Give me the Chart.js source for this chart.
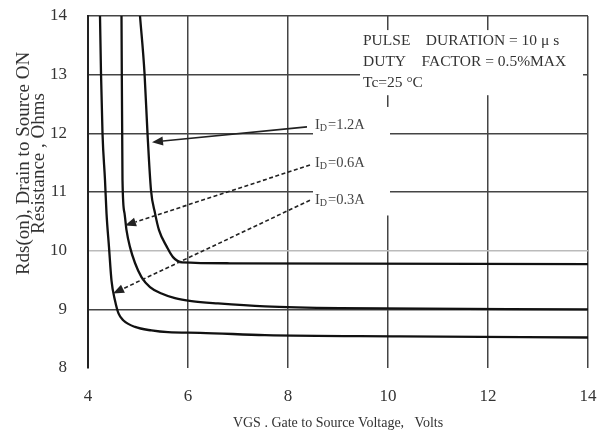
<!DOCTYPE html>
<html>
<head>
<meta charset="utf-8">
<script src="https://cdn.jsdelivr.net/npm/chart.js@4"></script>
<style>
  html, body { margin: 0; padding: 0; background: #fff; }
  #wrap { width: 603px; height: 441px; }
</style>
</head>
<body>
<div id="wrap"><canvas id="rdsCanvas" width="603" height="441"></canvas></div>
<script>
// Rds(on) vs Vgs, three drain currents
const vgs12 = [5.04, 5.13, 5.19, 5.26, 5.34, 5.42, 5.58, 5.70, 5.88, 6.84, 14];
const rds12 = [14.0, 13.03, 12.0, 11.03, 10.64, 10.35, 10.06, 9.89, 9.80, 9.785, 9.77];

const vgs06 = [4.67, 4.69, 4.73, 4.77, 4.84, 4.94, 5.07, 5.24, 5.47, 5.74, 6.07, 6.6, 7.54, 9.04, 14];
const rds06 = [14.0, 11.2, 10.64, 10.35, 10.06, 9.79, 9.55, 9.38, 9.27, 9.19, 9.14, 9.10, 9.05, 9.02, 9.0];

const vgs03 = [4.24, 4.26, 4.29, 4.34, 4.37, 4.42, 4.47, 4.54, 4.61, 4.71, 4.94, 5.27, 5.6, 6.24, 7.54, 10.24, 14];
const rds03 = [14.0, 13.03, 12.0, 11.2, 10.64, 10.06, 9.49, 9.15, 8.93, 8.81, 8.70, 8.64, 8.61, 8.60, 8.56, 8.54, 8.52];

const xTicks = [4, 6, 8, 10, 12, 14];
const yTicks = [8, 9, 10, 11, 12, 13, 14];

// curve labels and their pointer arrows (data coordinates)
const idLabels = ['=1.2A', '=0.6A', '=0.3A'];
const labelPos = [[8.54, 12.14], [8.54, 11.49], [8.54, 10.86]];
const arrowFrom = [[8.38, 12.11], [8.44, 11.46], [8.44, 10.86]];
const arrowTo = [[5.28, 11.85], [4.74, 10.43], [4.5, 9.27]];
const arrowDashed = [false, true, true];

const noteLines = ['PULSE    DURATION = 10 \u03bc s', 'DUTY    FACTOR = 0.5%MAX', 'Tc=25 \u00b0C'];

const serif = '"Liberation Serif", "Times New Roman", serif';
const ink = '#333';

function pts(xs, ys) {
  return xs.map((x, i) => ({ x: x, y: ys[i] }));
}

const annotate = {
  id: 'annotate',
  beforeDatasetsDraw(chart) {
    const ctx = chart.ctx, xs = chart.scales.x, ys = chart.scales.y;
    ctx.save();
    ctx.fillStyle = '#fff';
    // blank areas behind the note and the current labels
    let x0 = xs.getPixelForValue(9.44), x1 = xs.getPixelForValue(13.9);
    let y0 = ys.getPixelForValue(13.76), y1 = ys.getPixelForValue(12.65);
    ctx.fillRect(x0, y0, x1 - x0, y1 - y0);
    x0 = xs.getPixelForValue(8.5); x1 = xs.getPixelForValue(10.04);
    y0 = ys.getPixelForValue(12.45); y1 = ys.getPixelForValue(10.6);
    ctx.fillRect(x0, y0, x1 - x0, y1 - y0);
    ctx.restore();
  },
  afterDatasetsDraw(chart) {
    const ctx = chart.ctx, xs = chart.scales.x, ys = chart.scales.y;
    ctx.save();
    ctx.fillStyle = ink;
    ctx.strokeStyle = '#222';
    ctx.textBaseline = 'middle';
    // note block
    ctx.font = '15.5px ' + serif;
    const nx = xs.getPixelForValue(9.5);
    noteLines.forEach((t, i) => {
      ctx.fillText(t, nx, ys.getPixelForValue(13.58) + i * 21);
    });
    // arrows
    for (let i = 0; i < arrowFrom.length; i++) {
      const ax = xs.getPixelForValue(arrowFrom[i][0]), ay = ys.getPixelForValue(arrowFrom[i][1]);
      const bx = xs.getPixelForValue(arrowTo[i][0]), by = ys.getPixelForValue(arrowTo[i][1]);
      const ang = Math.atan2(by - ay, bx - ax);
      const hl = 11, hw = 4.5;
      const sx = bx - hl * Math.cos(ang), sy = by - hl * Math.sin(ang);
      ctx.lineWidth = 1.6;
      ctx.setLineDash(arrowDashed[i] ? [4, 2.5] : []);
      ctx.beginPath();
      ctx.moveTo(ax, ay);
      ctx.lineTo(sx, sy);
      ctx.stroke();
      ctx.setLineDash([]);
      ctx.fillStyle = '#222';
      ctx.beginPath();
      ctx.moveTo(bx, by);
      ctx.lineTo(sx + hw * Math.sin(ang), sy - hw * Math.cos(ang));
      ctx.lineTo(sx - hw * Math.sin(ang), sy + hw * Math.cos(ang));
      ctx.closePath();
      ctx.fill();
    }
    // I_D labels
    ctx.fillStyle = '#444';
    for (let i = 0; i < idLabels.length; i++) {
      let lx = xs.getPixelForValue(labelPos[i][0]);
      const ly = ys.getPixelForValue(labelPos[i][1]);
      ctx.font = '14.5px ' + serif;
      ctx.fillText('I', lx, ly);
      lx += ctx.measureText('I').width;
      ctx.font = '10px ' + serif;
      ctx.fillText('D', lx, ly + 3);
      lx += ctx.measureText('D').width + 1;
      ctx.font = '14.5px ' + serif;
      ctx.fillText(idLabels[i], lx, ly);
    }
    ctx.restore();
  }
};

const line = (data) => ({
  data: data,
  borderColor: '#111',
  borderWidth: 2.3,
  pointRadius: 0,
  fill: false,
  cubicInterpolationMode: 'monotone'
});

new Chart(document.getElementById('rdsCanvas'), {
  type: 'line',
  data: {
    datasets: [
      line(pts(vgs12, rds12)),
      line(pts(vgs06, rds06)),
      line(pts(vgs03, rds03))
    ]
  },
  options: {
    responsive: false,
    animation: false,
    layout: { padding: { top: 16, right: 15, left: 0, bottom: 0 } },
    plugins: { legend: { display: false }, tooltip: { enabled: false } },
    scales: {
      x: {
        type: 'linear',
        min: 4, max: 14,
        afterFit: (s) => { s.height = 73; s.paddingLeft = 0; s.paddingRight = 0; },
        afterBuildTicks: (s) => { s.ticks = xTicks.map(v => ({ value: v })); },
        border: { display: false },
        grid: { color: '#444', lineWidth: 1.5, drawTicks: false },
        ticks: { color: ink, font: { family: serif, size: 17 }, padding: 18 },
        title: {
          display: true,
          text: 'VGS . Gate to Source Voltage,   Volts',
          color: ink,
          font: { family: serif, size: 14 },
          padding: { top: 0, bottom: 9.6 }
        }
      },
      y: {
        min: 8, max: 14,
        afterFit: (s) => { s.width = 88; s.paddingTop = 0; s.paddingBottom = 0; },
        afterBuildTicks: (s) => { s.ticks = yTicks.map(v => ({ value: v })); },
        border: { display: true, color: '#222', width: 2 },
        grid: {
          drawTicks: false,
          lineWidth: 1.5,
          color: (c) => c.tick.value === 8 ? 'rgba(0,0,0,0)' : (c.tick.value === 10 ? '#bbb' : '#444')
        },
        ticks: { color: ink, font: { family: serif, size: 17 }, padding: 21 },
        title: {
          display: true,
          text: ['            Rds(on), Drain to Source ON', '            Resistance , Ohms'],
          color: ink,
          font: { family: serif, size: 19, lineHeight: 0.78 },
          padding: { top: 16.6, bottom: 0 }
        }
      }
    }
  },
  plugins: [annotate]
});
</script>
</body>
</html>
